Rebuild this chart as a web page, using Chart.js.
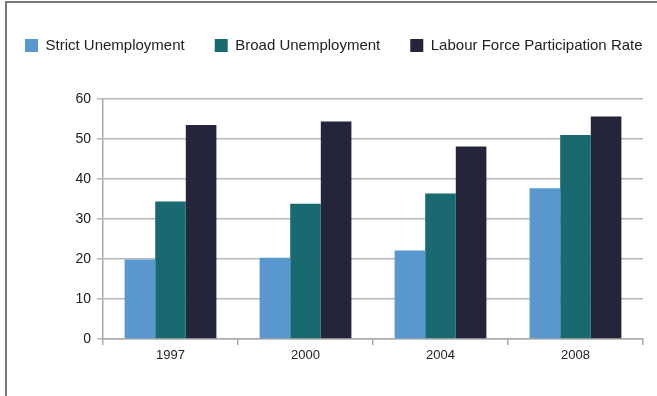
<!DOCTYPE html>
<html>
<head>
<meta charset="utf-8">
<script src="https://cdn.jsdelivr.net/npm/chart.js@4.4.1/dist/chart.umd.min.js"></script>
<style>
  html, body { margin: 0; padding: 0; background: #fff; }
  #wrap { position: relative; width: 657px; height: 396px; }
</style>
</head>
<body>
<div id="wrap"><canvas id="c" width="657" height="396"></canvas></div>
<script>
const years = ['1997', '2000', '2004', '2008'];
const strictUnemployment = [19.9, 20.3, 22.1, 37.7];
const broadUnemployment = [34.4, 33.8, 36.4, 51.0];
const labourForceParticipation = [53.5, 54.4, 48.1, 55.6];
const seriesNames = ['Strict Unemployment', 'Broad Unemployment', 'Labour Force Participation Rate'];
const yTicks = [0, 10, 20, 30, 40, 50, 60];

const FONT = '"Liberation Sans", Arial, sans-serif';
const LEGEND_PAD = 30;
const LEGEND_START = 25;

const framePlugin = {
  id: 'frame',
  beforeDraw(chart) {
    const ctx = chart.ctx;
    ctx.save();
    ctx.strokeStyle = '#777';
    ctx.lineWidth = 2;
    ctx.beginPath();
    ctx.moveTo(6, 396);
    ctx.lineTo(6, 2);
    ctx.lineTo(657, 2);
    ctx.stroke();
    ctx.restore();
  }
};

const legendSpace = {
  id: 'legendSpace',
  beforeInit(chart) {
    const lg = chart.legend;
    const orig = lg.fit;
    lg.fit = function () {
      const mw = this.maxWidth;
      this.maxWidth = 2000;
      orig.call(this);
      this.maxWidth = mw;
      this.width = mw;
      this.height = 91;
    };
  },
  afterLayout(chart) {
    const lg = chart.legend;
    const lw = lg.lineWidths ? lg.lineWidths[0] : 650;
    const right = 700;
    lg.right = right;
    lg.left = 2 * LEGEND_START - LEGEND_PAD - right + lw;
  }
};

new Chart(document.getElementById('c'), {
  type: 'bar',
  data: {
    labels: years,
    datasets: [
      { label: seriesNames[0], data: strictUnemployment, backgroundColor: '#5898cf' },
      { label: seriesNames[1], data: broadUnemployment, backgroundColor: '#196a70' },
      { label: seriesNames[2], data: labourForceParticipation, backgroundColor: '#24253a' }
    ]
  },
  options: {
    responsive: false,
    animation: false,
    devicePixelRatio: 1,
    layout: { padding: { top: 8, left: 10, right: 14, bottom: 0 } },
    datasets: { bar: { categoryPercentage: 0.68, barPercentage: 1.0 } },
    plugins: {
      tooltip: { enabled: false },
      legend: {
        position: 'top',
        labels: {
          boxWidth: 13,
          boxHeight: 13,
          padding: LEGEND_PAD,
          color: '#222',
          font: { family: FONT, size: 15 }
        }
      }
    },
    scales: {
      x: {
        grid: { drawOnChartArea: false, drawTicks: true, tickLength: 6, color: '#aaa', lineWidth: 1.5 },
        border: { color: '#aaa', width: 1.5 },
        ticks: { color: '#222', font: { family: FONT, size: 13 }, padding: 3 },
        afterFit(s) { s.height = 57; }
      },
      y: {
        min: 0,
        max: 60,
        afterBuildTicks(s) { s.ticks = yTicks.map(v => ({ value: v })); },
        grid: { color: '#b8b8b8', lineWidth: 1.5, drawTicks: true, tickLength: 6 },
        border: { color: '#aaa', width: 1.5 },
        ticks: { color: '#222', font: { family: FONT, size: 14 }, padding: 6 },
        afterFit(s) { s.width = 93; }
      }
    }
  },
  plugins: [framePlugin, legendSpace]
});
</script>
</body>
</html>
